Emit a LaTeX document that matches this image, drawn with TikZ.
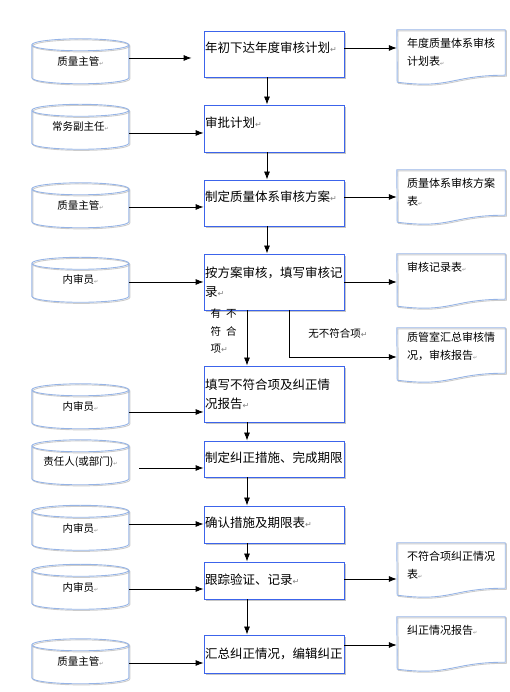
\documentclass[tikz,border=0pt]{standalone}
\usepackage{fontspec}
\setmainfont{Noto Sans CJK SC}
\newfontfamily\markfont{DejaVu Sans}
\usetikzlibrary{arrows.meta,shadows,positioning}
\definecolor{boxblue}{RGB}{60,100,235}
\definecolor{lineblue}{RGB}{150,180,230}
\tikzset{
    block/.style = {draw=boxblue, line width=0.8pt, fill=white, rectangle,
        text width=138pt, inner xsep=1pt, inner ysep=0pt, align=left,
        font=\fontsize{12.5}{19}\selectfont,
        drop shadow={shadow xshift=1.6pt, shadow yshift=-1.6pt, fill=gray!45, opacity=1}},
    store/.style = {rectangle, minimum width=97pt, minimum height=45pt, inner sep=0pt,
        font=\fontsize{10.5}{12}\selectfont},
    paper/.style = {rectangle, text width=88pt, inner xsep=10pt, inner ysep=0pt,
        text height=17.5pt, text depth=27.5pt, align=left,
        font=\fontsize{11}{18}\selectfont},
    outline/.style = {draw=lineblue, line width=0.9pt,
        preaction={draw=gray!40, line width=0.9pt, transform canvas={shift={(1.1pt,-1.1pt)}}}},
    arrow/.style = {draw, line width=0.8pt, -{Latex[length=8pt,width=6pt]}},
    note/.style = {font=\fontsize{10.5}{17.5}\selectfont, align=left, inner sep=0pt}
}
\newcommand\parmark{{\markfont\color{gray}\fontsize{8}{8}\selectfont ↵}}
\newcommand\tinymark{{\markfont\color{gray}\fontsize{5}{5}\selectfont ↵}}
\def\cylinder#1{%
    (#1.north west) ++(0,-6) arc[start angle=180, delta angle=360, x radius=48.5, y radius=6]
    -- ++(0,-33) arc[start angle=180, end angle=360, x radius=48.5, y radius=6] -- ++(0,33)
}
\def\paperedge#1{%
    (#1.north west) -- (#1.north east) -- (#1.south east)
    .. controls +(-54,0) and +(54,-7) .. ++(-108,-7) -- cycle
}

\begin{document}
\begin{tikzpicture}[x=1pt, y=1pt]
    \useasboundingbox (0,0) rectangle (510,692);
    % process steps
    \node [block, text height=22pt, text depth=24pt] (plan) at (274,638) {年初下达年度审核计划\parmark};
    \node [block, below of=plan, node distance=74.5pt, text height=23pt, text depth=24pt] (approve) {审批计划\parmark};
    \node [block, below of=approve, node distance=74.5pt, text height=22pt, text depth=24pt] (scheme) {制定质量体系审核方案\parmark};
    \node [block, below of=scheme, node distance=79pt, minimum height=56pt] (audit) {按方案审核，填写审核记\\录\parmark};
    \node [block, below of=audit, node distance=112pt, minimum height=56pt] (report) {填写不符合项及纠正情\\况报告\parmark};
    \node [block, below of=report, node distance=65pt, text height=21.5pt, text depth=14.5pt] (measure) {制定纠正措施、完成期限};
    \node [block, below of=measure, node distance=65.5pt, text height=21.5pt, text depth=15.5pt] (confirm) {确认措施及期限表\parmark};
    \node [block, below of=confirm, node distance=56pt, text height=22.5pt, text depth=14.5pt] (verify) {跟踪验证、记录\parmark};
    \node [block, below of=verify, node distance=73.5pt, text height=23.5pt, text depth=14.5pt] (summary) {汇总纠正情况，编辑纠正};
    % people
    \node [store, left of=plan, node distance=193.5pt, yshift=-7.5pt] (mgr1) {质量主管\tinymark};
    \node [store, left of=approve, node distance=193.5pt, yshift=1.5pt] (deputy) {常务副主任\tinymark};
    \node [store, left of=scheme, node distance=193.5pt, yshift=-2.5pt] (mgr2) {质量主管\tinymark};
    \node [store, left of=audit, node distance=193.5pt, yshift=2pt] (auditor1) {内审员\tinymark};
    \node [store, left of=report, node distance=193.5pt, yshift=-12.5pt] (auditor2) {内审员\tinymark};
    \node [store, left of=measure, node distance=193.5pt, yshift=-3.5pt] (owner) {责任人(或部门)\tinymark};
    \node [store, left of=confirm, node distance=193.5pt, yshift=-3.5pt] (auditor3) {内审员\tinymark};
    \node [store, left of=verify, node distance=193.5pt, yshift=-6.5pt] (auditor4) {内审员\tinymark};
    \node [store, left of=summary, node distance=193.5pt, yshift=-7.5pt] (mgr3) {质量主管\tinymark};
    \foreach \n in {mgr1,deputy,mgr2,auditor1,auditor2,owner,auditor3,auditor4,mgr3}
        \draw [outline] \cylinder{\n};
    % documents
    \node [paper, right of=plan, node distance=177pt, yshift=1.5pt] (planform) {年度质量体系审核\\计划表\tinymark};
    \node [paper, right of=scheme, node distance=177pt, yshift=10.5pt] (schemeform) {质量体系审核方案\\表\tinymark};
    \node [paper, right of=audit, node distance=177pt, yshift=5.5pt] (recordform) {审核记录表\tinymark};
    \node [paper, below of=recordform, node distance=74pt, text height=13.5pt, text depth=31.5pt] (auditreport) {质管室汇总审核情\\况，审核报告\tinymark};
    \node [paper, right of=verify, node distance=177pt, yshift=15pt] (fixform) {不符合项纠正情况\\表\tinymark};
    \node [paper, right of=summary, node distance=177pt, yshift=14.5pt] (fixreport) {纠正情况报告\tinymark};
    \foreach \n in {planform,schemeform,recordform,auditreport,fixform,fixreport}
        \draw [outline] \paperedge{\n};
    % inputs
    \draw [arrow, shorten >=12pt] ([yshift=3.5pt]mgr1.east) -- ([yshift=3.5pt]mgr1.east -| plan.west);
    \draw [arrow] ([yshift=-6pt]deputy.east) -- ([yshift=-6pt]deputy.east -| approve.west);
    \draw [arrow] ([yshift=-1.5pt]mgr2.east) -- ([yshift=-1.5pt]mgr2.east -| scheme.west);
    \draw [arrow] ([yshift=-2pt]auditor1.east) -- ([yshift=-2pt]auditor1.east -| audit.west);
    \draw [arrow] ([yshift=-5.5pt]auditor2.east) -- ([yshift=-5.5pt]auditor2.east -| report.west);
    \draw [arrow, shorten <=10pt] ([yshift=-5.5pt]owner.east) -- ([yshift=-5.5pt]owner.east -| measure.west);
    \draw [arrow] ([yshift=4pt]auditor3.east) -- ([yshift=4pt]auditor3.east -| confirm.west);
    \draw [arrow] ([yshift=-2pt]auditor4.east) -- ([yshift=-2pt]auditor4.east -| verify.west);
    \draw [arrow] ([yshift=-1.5pt]mgr3.east) -- ([yshift=-1.5pt]mgr3.east -| summary.west);
    % outputs
    \draw [arrow] ([yshift=6pt]plan.east) -- ([yshift=6pt]plan.east -| planform.west);
    \draw [arrow] ([yshift=6pt]scheme.east) -- ([yshift=6pt]scheme.east -| schemeform.west);
    \draw [arrow] (audit.east) -- (audit.east -| recordform.west);
    \draw [arrow] ([xshift=15pt]audit.south) |- node [note, pos=0.25, right=19pt] {无不符合项\parmark} ([yshift=-6.5pt]auditreport.west);
    \draw [arrow] ([yshift=1.5pt]verify.east) -- ([yshift=1.5pt]verify.east -| fixform.west);
    \draw [arrow] ([yshift=9pt]summary.east) -- ([yshift=9pt]summary.east -| fixreport.west);
    % main flow
    \draw [arrow] ([xshift=-7pt]plan.south) -- ([xshift=-7pt]approve.north);
    \draw [arrow] ([xshift=-7pt]approve.south) -- ([xshift=-7pt]scheme.north);
    \draw [arrow] ([xshift=-7pt]scheme.south) -- ([xshift=-7pt]audit.north);
    \draw [arrow] ([xshift=-27pt]audit.south) -- node [note, pos=0.38, left=10pt] {有\hspace{5pt}不\\符\hspace{5pt}合\\项\parmark} ([xshift=-27pt]report.north);
    \draw [arrow] ([xshift=-27pt]report.south) -- ([xshift=-27pt]measure.north);
    \draw [arrow] ([xshift=-27pt]measure.south) -- ([xshift=-27pt]confirm.north);
    \draw [arrow] ([xshift=-27pt]confirm.south) -- ([xshift=-27pt]verify.north);
    \draw [arrow] ([xshift=-27pt]verify.south) -- ([xshift=-27pt]summary.north);
\end{tikzpicture}
\end{document}
